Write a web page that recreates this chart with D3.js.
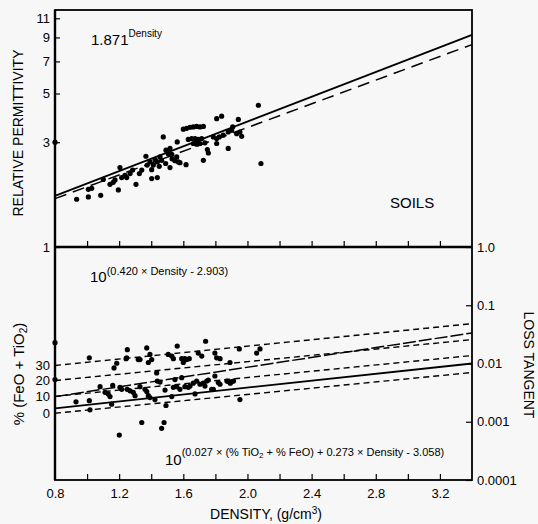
<!DOCTYPE html>
<html>
<head>
<meta charset="utf-8">
<script src="https://cdn.jsdelivr.net/npm/d3@7"></script>
<style>
  body { margin: 0; background: #f7f7f7; }
  svg { display: block; font-family: "Liberation Sans", Arial, Helvetica, sans-serif; }
</style>
</head>
<body>
<div id="chart"></div>
<script>
// ---- data ----
var densityLabels = [0.8, 1.2, 1.6, 2.0, 2.4, 2.8, 3.2];
var densityMinor = [1.0, 1.2, 1.4, 1.6, 1.8, 2.0, 2.2, 2.4, 2.6, 2.8, 3.0, 3.2];
var permTicks = [1, 3, 5, 7, 9, 11];
var lossTicks = [1, 0.1, 0.01, 0.001, 0.0001];
var lossLabels = ["1.0", "0.1", "0.01", "0.001", "0.0001"];

// soils: [density, relative permittivity]
var permPoints = [
  [0.80, 3.00], [0.935, 1.65], [1.008, 1.83], [1.029, 1.85], [1.008, 1.69], [1.085, 1.72],
  [1.101, 2.03], [1.143, 1.93], [1.163, 1.97], [1.174, 2.02], [1.195, 1.82], [1.205, 2.30],
  [1.216, 2.07], [1.236, 2.12], [1.247, 2.07], [1.268, 2.16], [1.284, 2.24], [1.305, 1.93],
  [1.326, 2.16], [1.341, 2.24], [1.367, 2.59], [1.375, 2.36], [1.392, 2.44], [1.403, 2.25],
  [1.413, 2.36], [1.403, 2.05], [1.438, 2.07], [1.424, 2.50], [1.438, 2.44], [1.455, 2.57],
  [1.465, 2.48], [1.475, 3.17], [1.492, 2.76], [1.506, 2.66], [1.517, 2.81], [1.528, 2.64],
  [1.517, 2.30], [1.548, 2.47], [1.559, 2.57], [1.569, 2.44], [1.562, 3.01], [1.579, 2.42],
  [1.617, 2.37], [1.600, 3.44], [1.621, 3.47], [1.642, 3.51], [1.662, 3.52], [1.683, 3.54],
  [1.704, 3.52], [1.725, 3.54], [1.631, 3.09], [1.652, 3.12], [1.673, 3.12], [1.693, 3.09],
  [1.715, 3.12], [1.662, 2.96], [1.683, 2.94], [1.704, 2.96], [1.735, 2.98], [1.725, 2.48],
  [1.750, 2.78], [1.756, 2.68], [1.787, 3.17], [1.808, 3.12], [1.824, 3.17], [1.849, 3.23],
  [1.808, 3.84], [1.839, 3.94], [1.808, 2.96], [1.880, 2.81], [1.880, 3.34], [1.901, 3.40],
  [1.908, 3.52], [1.933, 3.28], [1.953, 3.34], [1.964, 3.19], [1.943, 3.81], [2.068, 4.42],
  [2.084, 2.40], [1.45, 2.33], [1.49, 2.40], [1.53, 2.52]
];

// fitted permittivity curves: [density, permittivity] at the ends
var permFitSolid = [[0.8, 1.71], [3.4, 9.25]];
var permFitDashed = [[0.8, 1.66], [3.4, 8.35]];

// soils: [density, loss tangent]
var lossPoints = [
  [0.80, 0.0228], [0.80, 0.0053], [0.931, 0.0022], [1.014, 0.0125], [1.014, 0.0023], [1.018, 0.0016],
  [1.081, 0.0040], [1.112, 0.0032], [1.132, 0.0030], [1.143, 0.0027], [1.153, 0.0020], [1.160, 0.0042],
  [1.168, 0.0084], [1.185, 0.0101], [1.201, 0.00059], [1.205, 0.0039], [1.216, 0.0036], [1.243, 0.0121],
  [1.251, 0.0173], [1.250, 0.0036], [1.268, 0.0034], [1.288, 0.0032], [1.299, 0.0028], [1.319, 0.0117],
  [1.330, 0.0040], [1.341, 0.00097], [1.361, 0.0036], [1.372, 0.0033], [1.382, 0.0028], [1.392, 0.0026],
  [1.423, 0.0024], [1.372, 0.0185], [1.392, 0.0143], [1.382, 0.0104], [1.434, 0.0069], [1.438, 0.0050],
  [1.455, 0.0048], [1.465, 0.00077], [1.480, 0.00097], [1.486, 0.0035], [1.492, 0.0019], [1.506, 0.0143],
  [1.528, 0.0134], [1.538, 0.0121], [1.528, 0.0027], [1.538, 0.0039], [1.559, 0.0040], [1.579, 0.0036],
  [1.548, 0.0053], [1.562, 0.0199], [1.590, 0.0121], [1.600, 0.0104], [1.610, 0.0121], [1.621, 0.0117],
  [1.637, 0.0121], [1.590, 0.0057], [1.610, 0.0040], [1.631, 0.0039], [1.642, 0.0041], [1.662, 0.0046],
  [1.673, 0.0030], [1.683, 0.0050], [1.704, 0.0044], [1.693, 0.0151], [1.715, 0.0134], [1.725, 0.0046],
  [1.735, 0.0041], [1.746, 0.0050], [1.756, 0.0052], [1.739, 0.0241], [1.777, 0.0036], [1.787, 0.0036],
  [1.797, 0.0151], [1.808, 0.0125], [1.829, 0.0121], [1.797, 0.0061], [1.818, 0.0047], [1.829, 0.0044],
  [1.872, 0.0050], [1.882, 0.0049], [1.893, 0.0046], [1.903, 0.0049], [1.913, 0.0050], [1.891, 0.0104],
  [1.949, 0.0178], [1.953, 0.0024], [2.057, 0.0151], [2.078, 0.0178], [1.247, 0.0125], [1.330, 0.0117],
  [1.403, 0.0117]
];

// loss tangent fits: [density, loss tangent] at the ends
var lossFitSolid = [[0.8, 0.0017], [3.4, 0.0100]];
var lossFitDensity = [[0.8, 0.0027], [3.4, 0.0335]];
var pctLevels = [0, 10, 20, 30];
var pctLines = [
  [[0.8, 0.00140], [3.4, 0.0070]],
  [[0.8, 0.00273], [3.4, 0.0137]],
  [[0.8, 0.0051], [3.4, 0.0257]],
  [[0.8, 0.00925], [3.4, 0.0483]]
];

// ---- layout ----
var plotLeft = 55, plotRight = 472, plotTop = 10, plotMid = 247, plotBottom = 480;

var svg = d3.select("#chart").append("svg")
    .attr("width", 538)
    .attr("height", 524);

svg.append("rect").attr("width", 538).attr("height", 524).attr("fill", "#f7f7f7");

var x = d3.scaleLinear().domain([0.8, 3.4]).range([plotLeft, plotRight]);
var yPerm = d3.scaleLog().domain([1, 12]).range([plotMid, plotTop]);
var yLoss = d3.scaleLog().domain([0.0001, 1]).range([plotBottom, plotMid]);

function styleAxis(g) {
  g.select(".domain").remove();
  g.selectAll(".tick line").attr("stroke", "#000").attr("stroke-width", 1.2);
  g.selectAll(".tick text").attr("fill", "#000").style("font-size", "13px")
    .style("font-family", "'Liberation Sans', Arial, sans-serif");
}

// density ticks pointing up, on the divider and on the bottom
svg.append("g")
    .attr("transform", "translate(0," + plotMid + ")")
    .call(d3.axisBottom(x).tickValues(densityMinor).tickSize(-6).tickFormat(""))
    .call(styleAxis);

svg.append("g")
    .attr("transform", "translate(0," + plotBottom + ")")
    .call(d3.axisBottom(x).tickValues(densityMinor).tickSize(-6).tickFormat(""))
    .call(styleAxis);

svg.append("g")
    .attr("transform", "translate(0," + plotBottom + ")")
    .call(d3.axisBottom(x).tickValues(densityLabels).tickSize(0).tickPadding(9)
      .tickFormat(d3.format(".1f")))
    .call(styleAxis);

// permittivity axis
svg.append("g")
    .attr("transform", "translate(" + plotLeft + ",0)")
    .call(d3.axisLeft(yPerm).tickValues(permTicks).tickSize(-5).tickPadding(5)
      .tickFormat(d3.format("d")))
    .call(styleAxis);

// loss tangent axis
svg.append("g")
    .attr("transform", "translate(" + plotRight + ",0)")
    .call(d3.axisRight(yLoss).tickValues(lossTicks).tickSize(-6).tickPadding(5)
      .tickFormat(function (d, i) { return lossLabels[i]; }))
    .call(styleAxis);

// frame
svg.append("rect")
    .attr("x", plotLeft).attr("y", plotTop)
    .attr("width", plotRight - plotLeft).attr("height", plotBottom - plotTop)
    .attr("fill", "none").attr("stroke", "#000").attr("stroke-width", 1.8);
svg.append("line")
    .attr("x1", plotLeft).attr("x2", plotRight).attr("y1", plotMid).attr("y2", plotMid)
    .attr("stroke", "#000").attr("stroke-width", 2.4);
svg.append("line")
    .attr("x1", plotLeft).attr("x2", plotLeft).attr("y1", plotTop).attr("y2", plotBottom)
    .attr("stroke", "#000").attr("stroke-width", 2.4);

// ---- upper panel ----
var permLine = d3.line()
    .x(function (d) { return x(d[0]); })
    .y(function (d) { return yPerm(d[1]); });

svg.append("path").datum(permFitSolid)
    .attr("d", permLine).attr("fill", "none")
    .attr("stroke", "#000").attr("stroke-width", 1.8);

svg.append("path").datum(permFitDashed)
    .attr("d", permLine).attr("fill", "none")
    .attr("stroke", "#000").attr("stroke-width", 1.5)
    .attr("stroke-dasharray", "12,7");

svg.append("g").selectAll("circle")
    .data(permPoints)
    .enter().append("circle")
    .attr("cx", function (d) { return x(d[0]); })
    .attr("cy", function (d) { return yPerm(d[1]); })
    .attr("r", 2.6)
    .attr("fill", "#000");

// ---- lower panel ----
var lossLine = d3.line()
    .x(function (d) { return x(d[0]); })
    .y(function (d) { return yLoss(d[1]); });

svg.append("g").selectAll("path")
    .data(pctLines)
    .enter().append("path")
    .attr("d", lossLine).attr("fill", "none")
    .attr("stroke", "#000").attr("stroke-width", 1.4)
    .attr("stroke-dasharray", "6,4");

svg.append("path").datum(lossFitDensity)
    .attr("d", lossLine).attr("fill", "none")
    .attr("stroke", "#000").attr("stroke-width", 1.5)
    .attr("stroke-dasharray", "13,3");

svg.append("path").datum(lossFitSolid)
    .attr("d", lossLine).attr("fill", "none")
    .attr("stroke", "#000").attr("stroke-width", 1.8);

svg.append("g").selectAll("circle")
    .data(lossPoints)
    .enter().append("circle")
    .attr("cx", function (d) { return x(d[0]); })
    .attr("cy", function (d) { return yLoss(d[1]); })
    .attr("r", 2.6)
    .attr("fill", "#000");

// percent labels at the start of each dashed line
svg.append("g").selectAll("text")
    .data(pctLevels)
    .enter().append("text")
    .attr("x", plotLeft - 5)
    .attr("y", function (d, i) { return yLoss(pctLines[i][0][1]); })
    .attr("dy", "0.35em")
    .attr("text-anchor", "end")
    .style("font-size", "13px")
    .text(function (d) { return d; });

// ---- texts ----
var t1 = svg.append("text").attr("x", 91).attr("y", 45).style("font-size", "15px");
t1.append("tspan").text("1.871");
t1.append("tspan").attr("dy", -8).style("font-size", "10px").text("Density");

svg.append("text")
    .attr("x", 390).attr("y", 208)
    .style("font-size", "15px")
    .text("SOILS");

var t2 = svg.append("text").attr("x", 90).attr("y", 282).style("font-size", "15px");
t2.append("tspan").text("10");
t2.append("tspan").attr("dy", -7).style("font-size", "11px")
  .text("(0.420 \u00d7 Density - 2.903)");

var t3 = svg.append("text").attr("x", 165).attr("y", 465).style("font-size", "15px");
t3.append("tspan").text("10");
t3.append("tspan").attr("dy", -9).style("font-size", "11px").text("(0.027 \u00d7 (% TiO");
t3.append("tspan").attr("dy", 2).style("font-size", "8px").text("2");
t3.append("tspan").attr("dy", -2).style("font-size", "11px")
  .text(" + % FeO) + 0.273 \u00d7 Density - 3.058)");

// axis titles
svg.append("text")
    .attr("transform", "translate(23,133) rotate(-90)")
    .attr("text-anchor", "middle")
    .style("font-size", "14px")
    .text("RELATIVE PERMITTIVITY");

var t4 = svg.append("text")
    .attr("transform", "translate(24,374) rotate(-90)")
    .attr("text-anchor", "middle")
    .style("font-size", "15px");
t4.append("tspan").text("% (FeO + TiO");
t4.append("tspan").attr("dy", 3).style("font-size", "10px").text("2");
t4.append("tspan").attr("dy", -3).text(")");

svg.append("text")
    .attr("transform", "translate(524,365) rotate(90)")
    .attr("text-anchor", "middle")
    .style("font-size", "14px")
    .text("LOSS TANGENT");

var t5 = svg.append("text")
    .attr("x", 266).attr("y", 519)
    .attr("text-anchor", "middle")
    .style("font-size", "14px");
t5.append("tspan").text("DENSITY, (g/cm");
t5.append("tspan").attr("dy", -5).style("font-size", "10px").text("3");
t5.append("tspan").attr("dy", 5).text(")");
</script>
</body>
</html>
